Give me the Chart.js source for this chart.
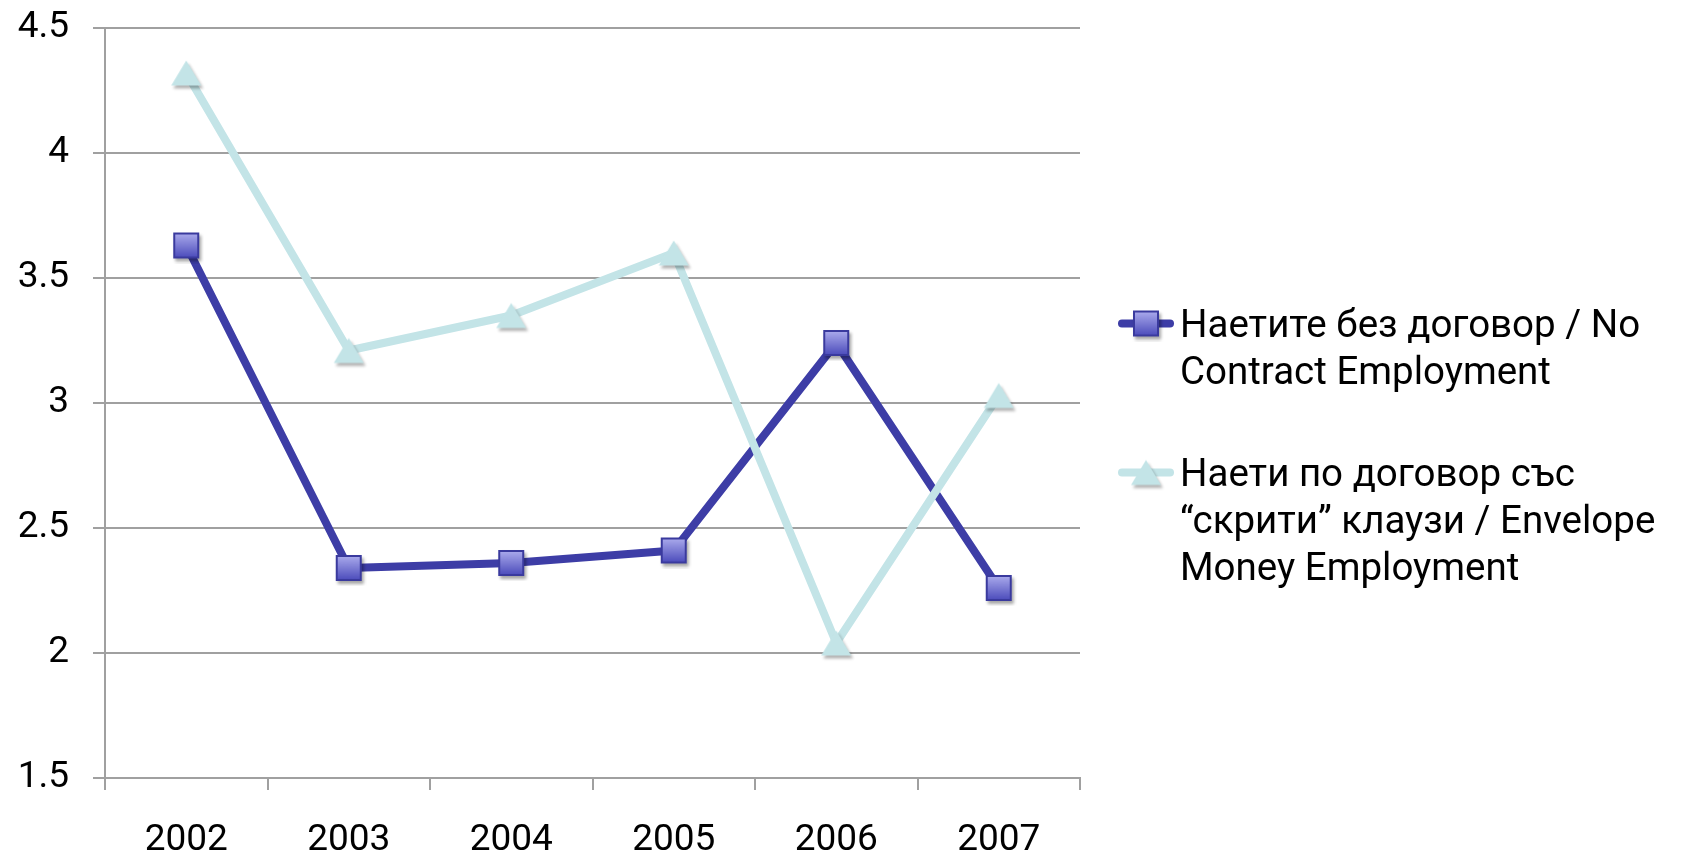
<!DOCTYPE html>
<html>
<head>
<meta charset="utf-8">
<script src="https://cdn.jsdelivr.net/npm/chart.js@4"></script>
<style>
  html, body { margin: 0; padding: 0; background: #fff; }
  #wrap { position: relative; width: 1682px; height: 856px; }
  #chart { position: absolute; left: 0; top: 0; }
  .leg-item { position: absolute; left: 1116px; }
  .leg-item canvas { position: absolute; left: 0; }
  .leg-text { position: absolute; left: 64px; white-space: nowrap; font-family: Roboto, "DejaVu Sans", sans-serif; font-size: 38.5px; line-height: 47px; color: #000; }
</style>
</head>
<body>
<div id="wrap">
  <canvas id="chart" width="1682" height="856"></canvas>
  <div id="legend"></div>
</div>
<script>
const years = ['2002', '2003', '2004', '2005', '2006', '2007'];
const noContract = [3.63, 2.34, 2.36, 2.41, 3.24, 2.26];
const envelope = [4.32, 3.21, 3.35, 3.60, 2.04, 3.03];
const noContractLabel = ['Наетите без договор / No', 'Contract Employment'];
const envelopeLabel = ['Наети по договор със', '“скрити” клаузи / Envelope', 'Money Employment'];
const yMin = 1.5, yMax = 4.5, yStep = 0.5;

const DARK = '#3d3da6';
const LIGHT = '#c3e4e7';
const GRID = '#a0a0a0';
const FONT = 'Roboto, "DejaVu Sans", sans-serif';

function squareMarker() {
  const c = document.createElement('canvas');
  c.width = 36; c.height = 36;
  const g = c.getContext('2d');
  g.save();
  g.shadowColor = 'rgba(0,0,0,0.35)';
  g.shadowOffsetX = 2; g.shadowOffsetY = 3; g.shadowBlur = 3;
  g.fillStyle = '#3a3a9e';
  g.fillRect(5, 5, 26, 26);
  g.restore();
  const grad = g.createLinearGradient(0, 7, 0, 29);
  grad.addColorStop(0, '#a6a6ea');
  grad.addColorStop(1, '#5050bd');
  g.fillStyle = grad;
  g.fillRect(7, 7, 22, 22);
  return c;
}
function triangleMarker() {
  const c = document.createElement('canvas');
  c.width = 40; c.height = 40;
  const g = c.getContext('2d');
  g.shadowColor = 'rgba(0,0,0,0.3)';
  g.shadowOffsetX = 2; g.shadowOffsetY = 3; g.shadowBlur = 3;
  g.fillStyle = LIGHT;
  g.beginPath();
  g.moveTo(20, 7.5); g.lineTo(35, 32.5); g.lineTo(5, 32.5); g.closePath();
  g.fill();
  return c;
}
const sq = squareMarker();
const tri = triangleMarker();

const chart = new Chart(document.getElementById('chart'), {
  type: 'line',
  data: {
    labels: years,
    datasets: [
      { label: noContractLabel.join(' '), data: noContract, borderColor: DARK, backgroundColor: DARK,
        borderWidth: 8, pointStyle: sq, pointRadius: 13, order: 1, tension: 0, borderJoinStyle: 'round', borderCapStyle: 'round' },
      { label: envelopeLabel.join(' '), data: envelope, borderColor: LIGHT, backgroundColor: LIGHT,
        borderWidth: 8, pointStyle: tri, pointRadius: 15, order: 0, tension: 0, borderJoinStyle: 'round', borderCapStyle: 'round' }
    ]
  },
  options: {
    responsive: false,
    animation: false,
    events: [],
    layout: { padding: { top: 28, right: 602, left: 0, bottom: 0 } },
    plugins: { legend: { display: false }, tooltip: { enabled: false } },
    scales: {
      x: {
        offset: true,
        grid: { display: true, drawOnChartArea: false, offset: true, color: GRID, lineWidth: 2, tickLength: 12, tickWidth: 2 },
        border: { display: true, color: GRID, width: 2 },
        ticks: { color: '#000', font: { family: FONT, size: 37 }, padding: 29, maxRotation: 0 },
        afterFit: s => { s.height = 78; s.paddingLeft = 0; s.paddingRight = 0; }
      },
      y: {
        min: yMin, max: yMax,
        grid: { color: GRID, lineWidth: 2, tickLength: 12, tickWidth: 2 },
        border: { display: true, color: GRID, width: 2 },
        ticks: { stepSize: yStep, color: '#000', font: { family: FONT, size: 37 }, padding: 24,
                 callback: v => String(v) },
        afterFit: s => { s.width = 105; s.paddingTop = 0; s.paddingBottom = 0; }
      }
    }
  }
});

// HTML legend built from chart datasets
const legendLines = [noContractLabel, envelopeLabel];
const legendTops = [300, 449];
const legend = document.getElementById('legend');
chart.data.datasets.forEach((ds, i) => {
  const item = document.createElement('div');
  item.className = 'leg-item';
  item.style.top = legendTops[i] + 'px';
  const ic = document.createElement('canvas');
  ic.width = 60; ic.height = 47;
  ic.style.top = '0px';
  const g = ic.getContext('2d');
  g.strokeStyle = ds.borderColor; g.lineWidth = 8; g.lineCap = 'round';
  g.beginPath(); g.moveTo(6, 23.5); g.lineTo(54, 23.5); g.stroke();
  const img = ds.pointStyle;
  g.drawImage(img, 30 - img.width / 2, 23.5 - img.height / 2);
  item.appendChild(ic);
  const t = document.createElement('div');
  t.className = 'leg-text';
  t.innerHTML = legendLines[i].join('<br>');
  item.appendChild(t);
  legend.appendChild(item);
});
</script>
</body>
</html>
